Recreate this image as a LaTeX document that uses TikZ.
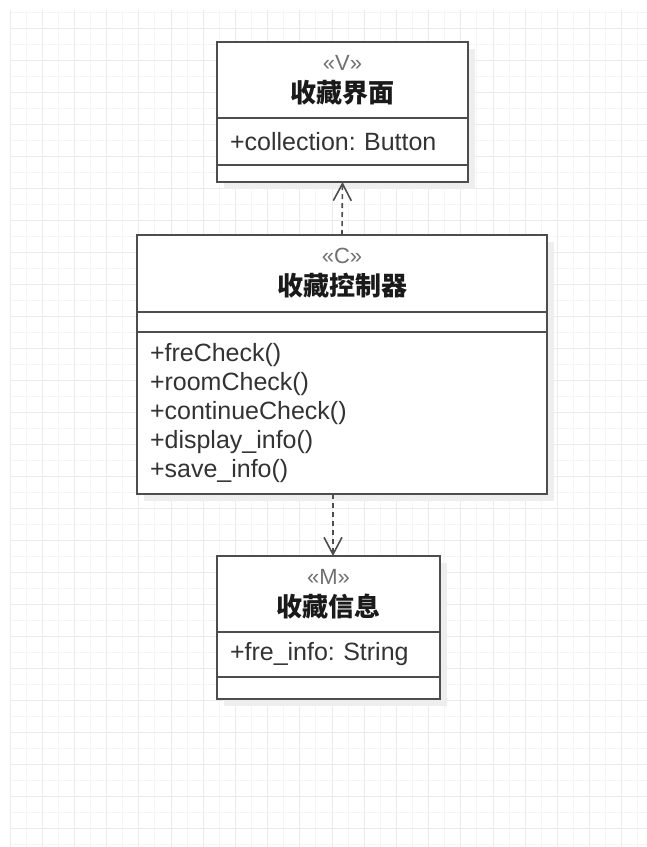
\documentclass[tikz,border=0pt]{standalone}
\usepackage{fontspec}
\setmainfont{Liberation Sans}
\newfontfamily\cjkfont{Noto Sans CJK SC}
\usetikzlibrary{arrows.meta, positioning, backgrounds}
\frenchspacing

\definecolor{boxline}{HTML}{4D4D4D}
\definecolor{membertext}{HTML}{333333}
\definecolor{stereotext}{HTML}{707070}
\definecolor{titletext}{HTML}{1A1A1A}
\definecolor{gridmajor}{HTML}{EBEBEB}
\definecolor{gridminor}{HTML}{F5F5F5}
\definecolor{boxshadow}{HTML}{EEEEEE}

\newcommand\umlkind[1]{{\normalfont\fontsize{22}{32}\selectfont\color{stereotext}«#1»}}

\begin{document}
\begin{tikzpicture}[
    x=1pt, y=-1pt,
    compartment/.style={
        draw=boxline,
        line width=1.8pt,
        fill=white,
        anchor=north west,
        inner xsep=13pt,
        inner ysep=0pt,
        outer sep=0pt,
        text=membertext,
        align=left,
        font=\fontsize{25}{29}\selectfont,
    },
    headpart/.style={
        compartment,
        align=center,
        text=titletext,
        font=\cjkfont\bfseries\fontsize{26}{32}\selectfont,
    },
    depend/.style={
        draw=boxline,
        line width=1.6pt,
        dash pattern=on 5pt off 4pt,
        -{Straight Barb[length=17pt, width=18pt]},
    }
]
    \useasboundingbox (0,0) rectangle (647,847);

    % Grid
    \begin{scope}[on background layer]
        \foreach \k in {0,...,39}
            \draw[gridminor, line width=1pt] ({10+16.1*\k},10) -- ({10+16.1*\k},847);
        \foreach \k in {0,...,52}
            \draw[gridminor, line width=1pt] (10,{12+16*\k}) -- (647,{12+16*\k});
        \foreach \k in {0,2,...,38}
            \draw[gridmajor, line width=1pt] ({10+16.1*\k},10) -- ({10+16.1*\k},847);
        \foreach \k in {1,3,...,51}
            \draw[gridmajor, line width=1pt] (10,{12+16*\k}) -- (647,{12+16*\k});
    \end{scope}

    % View
    \node[headpart, text width=225pt, minimum height=76pt] (vhead) at (217,42) {\umlkind{V}\\收藏界面};
    \node[compartment, text width=225pt, minimum height=47pt] (vattr) at (vhead.south west) {+collection: Button};
    \node[compartment, text width=225pt, minimum height=17pt] (vops) at (vattr.south west) {};

    % Controller
    \node[headpart, text width=384pt, minimum height=77pt] (chead) at (137,235) {\umlkind{C}\\收藏控制器};
    \node[compartment, text width=384pt, minimum height=20pt] (cattr) at (chead.south west) {};
    \node[compartment, text width=384pt, minimum height=162pt] (cops) at (cattr.south west)
        {+freCheck()\\+roomCheck()\\+continueCheck()\\+display\_info()\\+save\_info()};

    % Model
    \node[headpart, text width=197pt, minimum height=76pt] (mhead) at (217,556) {\umlkind{M}\\收藏信息};
    \node[compartment, text width=197pt, minimum height=45pt] (mattr) at (mhead.south west) {+fre\_info: String};
    \node[compartment, text width=197pt, minimum height=22pt] (mops) at (mattr.south west) {};

    % Shadows
    \begin{scope}[on background layer]
        \fill[boxshadow] ([shift={(7,7)}]vhead.north west) rectangle ([shift={(7,7)}]vops.south east);
        \fill[boxshadow] ([shift={(7,7)}]chead.north west) rectangle ([shift={(7,7)}]cops.south east);
        \fill[boxshadow] ([shift={(7,7)}]mhead.north west) rectangle ([shift={(7,7)}]mops.south east);
    \end{scope}

    % Dependencies
    \coordinate (mlink) at (333,556);
    \draw[depend] (chead.north) -- (vops.south);
    \draw[depend] (cops.south -| mlink) -- (mlink);
\end{tikzpicture}
\end{document}
